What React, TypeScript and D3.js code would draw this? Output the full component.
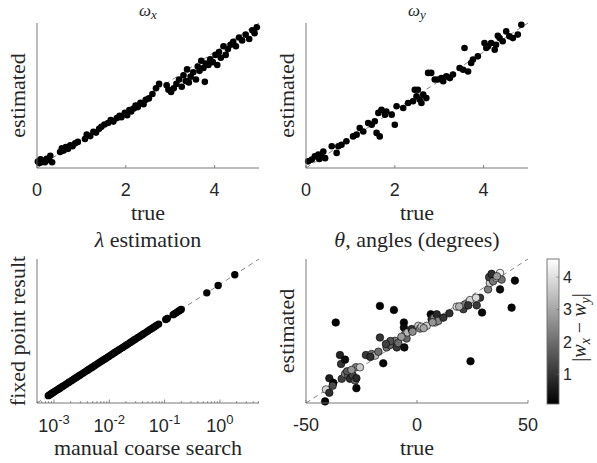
import React from 'react';
import * as d3 from 'd3';

// ---------- data ----------
const omegaXTrue = [0.02,0.05,0.08,0.1,0.14,0.18,0.22,0.26,0.3,0.34,0.52,0.56,0.6,0.65,0.7,0.75,0.8,0.86,0.92,1.08,1.12,1.2,1.27,1.33,1.4,1.45,1.52,1.6,1.66,1.72,1.8,1.86,1.9,1.98,2.03,2.08,2.12,2.18,2.22,2.27,2.33,2.4,2.45,2.52,2.6,2.68,2.75,2.92,2.96,3.02,3.08,3.14,3.2,3.26,3.3,3.35,3.38,3.42,3.46,3.52,3.58,3.62,3.66,3.7,3.75,3.78,3.8,3.86,3.9,3.96,4.02,4.06,4.1,4.14,4.2,4.25,4.3,4.36,4.42,4.48,4.55,4.62,4.7,4.78,4.85,4.9,4.95];
const omegaXEst = [0.22,0.17,0.3,0.2,0.25,0.2,0.32,0.28,0.42,0.2,0.55,0.68,0.6,0.72,0.66,0.78,0.75,0.85,0.9,1.0,1.15,1.1,1.25,1.22,1.35,1.42,1.5,1.55,1.65,1.6,1.72,1.8,1.75,1.9,1.82,2.0,1.95,2.05,2.15,2.1,2.25,2.2,2.35,2.4,2.55,2.75,2.9,2.85,2.7,2.62,2.75,2.9,3.05,2.8,3.2,3.0,3.4,2.95,3.15,3.3,3.05,3.5,3.35,3.7,3.45,2.97,3.6,3.55,3.75,3.65,3.9,3.55,4.0,3.8,4.2,3.9,4.1,4.25,4.35,4.2,4.5,4.4,4.6,4.45,4.75,4.65,4.85];

const omegaYTrue = [0.05,0.13,0.2,0.28,0.35,0.39,0.3,0.43,0.58,0.69,0.73,0.8,0.91,1.06,1.14,1.21,1.29,1.4,1.48,1.55,1.59,1.66,1.63,1.7,1.78,1.81,1.93,2.0,2.04,2.19,2.3,2.41,2.49,2.45,2.52,2.56,2.6,2.71,2.64,2.75,2.82,2.9,2.97,3.05,3.09,3.16,3.24,3.31,3.46,3.54,3.57,3.65,3.72,3.76,3.87,4.02,4.1,4.17,4.25,4.28,4.36,4.43,4.51,4.58,4.66,4.77,4.85,4.06,4.32];
const omegaYEst = [0.23,0.29,0.4,0.46,0.4,0.57,0.31,0.34,0.75,0.52,0.75,0.8,0.92,1.09,1.15,1.38,1.26,1.55,1.49,1.61,1.21,1.09,1.9,2.01,1.84,1.95,1.84,1.49,2.13,2.07,2.24,2.3,2.47,2.7,2.7,2.36,2.24,2.41,2.53,3.28,3.28,3.05,3.05,3.1,2.99,3.16,3.1,3.22,3.45,3.39,4.14,3.33,3.62,3.74,3.85,4.31,4.2,4.31,4.08,4.25,4.48,4.37,4.71,4.54,4.48,4.6,4.94,4.14,4.56];

const lambdaManual = [0.00079,0.00083,0.00088,0.00092,0.00097,0.00103,0.0011,0.00118,0.00125,0.0013,0.0014,0.0015,0.00165,0.0018,0.0019,0.0021,0.0023,0.0025,0.0027,0.0029,0.0031,0.0034,0.0037,0.004,0.0043,0.0047,0.005,0.0054,0.0058,0.0063,0.0068,0.0073,0.0079,0.0085,0.0091,0.0098,0.0105,0.0113,0.0122,0.013,0.014,0.015,0.0162,0.0175,0.019,0.0205,0.022,0.024,0.026,0.028,0.03,0.033,0.036,0.039,0.042,0.046,0.05,0.055,0.06,0.065,0.071,0.078,0.105,0.112,0.143,0.152,0.165,0.178,0.19,0.2,0.58,0.93,1.86];
const lambdaFixed = [0.00079,0.00083,0.00088,0.00092,0.00097,0.00103,0.0011,0.00118,0.00125,0.0013,0.0014,0.0015,0.00165,0.0018,0.0019,0.0021,0.0023,0.0025,0.0027,0.0029,0.0031,0.0034,0.0037,0.004,0.0043,0.0047,0.005,0.0054,0.0058,0.0063,0.0068,0.0073,0.0079,0.0085,0.0091,0.0098,0.0105,0.0113,0.0122,0.013,0.014,0.015,0.0162,0.0175,0.019,0.0205,0.022,0.024,0.026,0.028,0.03,0.033,0.036,0.039,0.042,0.046,0.05,0.055,0.06,0.065,0.071,0.078,0.105,0.112,0.143,0.152,0.165,0.178,0.19,0.2,0.58,0.93,1.86];

const thetaTrue = [-41.4,-41,-39.5,-39.5,-37.7,-36.6,-34.7,-34.2,-32.4,-33.9,-32.4,-30.9,-30.2,-29,-27.9,-27.5,-25.7,-27.3,-27.3,-23,-20.4,-18.9,-17.4,-16.7,-15.2,-16.7,-13.7,-12.2,-10.4,-9.9,-9.1,-8.4,-5.9,-5.9,-5.4,-5.7,-4.7,-4.3,-2.4,0.6,1.4,2.1,4.4,6.2,6.6,7.7,8.9,8.1,9.6,11.9,14.6,17.9,20.9,21.6,23.9,24.1,23.1,26.9,28.4,29.3,32,32.8,32.5,34.3,35.8,37.4,38.1,37.4,33.6,42.6,44.1,26.6,-31.5,-29.5,-38,-12,-7,-2,3,7,19,36,-21,-14];
const thetaEst = [-48.9,-40.6,-42.9,-32.8,-36,5.9,-16.7,-22.9,-19.9,-33.2,-29.8,-30.9,-33.2,-30.5,-34.4,-25.2,-25.2,-39.7,-32.8,-16.7,-16,-17.1,-14.4,17.4,-22.4,-4.5,-11.4,-9.8,14.6,-6.8,-11.4,-8.4,5.9,2.4,-2.2,-11.4,-5.2,-1,1.3,3.6,1.7,2.9,3.6,11.6,8.2,9.3,11.6,5.9,7,9.3,12.3,16.9,15.1,18.5,21.5,-21,17.8,17.8,23.1,12.8,28.9,33.4,37.4,34.6,36.9,40.3,35.7,28.9,39.7,16.2,35,23.1,-28,-27,-38,-7,-4,-0.5,2,6,17,38,-18,-9];
const thetaDiff = [0.2,3.8,0.9,0.6,0.2,0.1,0.7,1.0,0.3,1.2,2.2,2.0,0.9,1.3,1.9,2.3,3.6,0.2,0.8,1.1,2.1,3.4,2.0,0.1,0.2,1.0,2.1,1.8,0.15,2.3,1.1,2.0,0.2,0.3,2.4,0.3,1.9,3.3,1.0,3.6,2.6,3.9,3.7,0.2,0.9,2.3,0.8,3.5,2.4,1.0,0.9,4.0,1.2,2.2,3.8,0.15,1.0,1.1,1.0,0.2,2.3,3.7,1.2,2.2,3.5,4.3,2.1,0.3,0.9,0.15,0.2,3.9,1.6,2.7,1.4,1.5,2.8,2.5,3.0,2.7,3.2,2.8,0.9,1.2];

const linearTicksTop = [0, 2, 4];
const thetaTicks = [-50, 0, 50];
const logMajorTicks = [-3, -2, -1, 0];
const colorbarTicks = [1, 2, 3, 4];

// ---------- style ----------
const SERIF = '"Liberation Serif", "Times New Roman", serif';
const SANS = '"Liberation Sans", Arial, Helvetica, sans-serif';
const AXIS = '#6a6a6a';
const TXT = '#262626';
const LABEL_SIZE = 22;
const TICK_SIZE = 18;

type Box = { x0: number; x1: number; y0: number; y1: number };

function Axes({ b }: { b: Box }) {
  return (
    <g>
      <line x1={b.x0} y1={b.y0} x2={b.x0} y2={b.y1} stroke={AXIS} strokeWidth={0.9} />
      <line x1={b.x0} y1={b.y1} x2={b.x1} y2={b.y1} stroke={AXIS} strokeWidth={0.9} />
    </g>
  );
}

function YLabel({ x, y, text }: { x: number; y: number; text: string }) {
  return (
    <text transform={`translate(${x},${y}) rotate(-90)`} textAnchor="middle" fontFamily={SERIF} fontSize={LABEL_SIZE} fill={TXT}>
      {text}
    </text>
  );
}

export default function App() {
  const A: Box = { x0: 37, x1: 259, y0: 23, y1: 168 };
  const B: Box = { x0: 306, x1: 528, y0: 23, y1: 168 };
  const C: Box = { x0: 37, x1: 259, y0: 259, y1: 403 };
  const D: Box = { x0: 306, x1: 528, y0: 259, y1: 403 };

  const xA = d3.scaleLinear().domain([0, 5]).range([A.x0, A.x1]);
  const yA = d3.scaleLinear().domain([0, 5]).range([A.y1, A.y0]);
  const xB = d3.scaleLinear().domain([0, 5]).range([B.x0, B.x1]);
  const yB = d3.scaleLinear().domain([0, 5]).range([B.y1, B.y0]);
  const logDom: [number, number] = [Math.pow(10, -3.307), Math.pow(10, 0.707)];
  const xC = d3.scaleLog().domain(logDom).range([C.x0, C.x1]);
  const yC = d3.scaleLog().domain(logDom).range([C.y1, C.y0]);
  const xD = d3.scaleLinear().domain([-50, 50]).range([D.x0, D.x1]);
  const yD = d3.scaleLinear().domain([-50, 50]).range([D.y1, D.y0]);

  const cbar = { x: 547, w: 12, y0: 259, y1: 404 };
  const cDomain: [number, number] = [0.08, 4.56];
  const cY = d3.scaleLinear().domain(cDomain).range([cbar.y1, cbar.y0]);
  const cColor = d3.scaleLinear<string>().domain(cDomain).range(['#000000', '#ffffff']);

  const logMinor = xC.ticks().filter((t) => {
    const e = Math.log10(t);
    return Math.abs(e - Math.round(e)) > 1e-6;
  });

  const dash = '5,4';
  const topTickY = 196;
  const topLabelY = 220;
  const botTickY = 431;
  const botLabelY = 455;

  const dotsTop = (xs: number[], ys: number[], sx: any, sy: any) =>
    xs.map((v, i) => <circle key={i} cx={sx(v)} cy={sy(ys[i])} r={3.3} fill="#000" />);

  return (
    <svg width={597} height={463} style={{ position: 'absolute', left: 0, top: 0 }} xmlns="http://www.w3.org/2000/svg">
      <defs>
        <linearGradient id="grayGrad" x1="0" y1="1" x2="0" y2="0">
          <stop offset="0" stopColor="#000" />
          <stop offset="1" stopColor="#fff" />
        </linearGradient>
      </defs>
      <rect width={597} height={463} fill="#fff" />

      {/* ---- panel A : omega_x ---- */}
      <line x1={xA(0)} y1={yA(0)} x2={xA(5)} y2={yA(5)} stroke="#333" strokeWidth={0.6} strokeDasharray={dash} />
      {dotsTop(omegaXTrue, omegaXEst, xA, yA)}
      <Axes b={A} />
      {linearTicksTop.map((t) => (
        <g key={t}>
          <line x1={xA(t)} x2={xA(t)} y1={A.y1} y2={A.y1 - 3} stroke={AXIS} strokeWidth={0.8} />
          <text x={xA(t)} y={topTickY} textAnchor="middle" fontFamily={SANS} fontSize={TICK_SIZE} fill={TXT}>{t}</text>
        </g>
      ))}
      <text x={(A.x0 + A.x1) / 2} y={15.5} textAnchor="middle" fontFamily={SERIF} fontSize={17} fill={TXT}>
        <tspan fontStyle="italic">ω</tspan>
        <tspan fontStyle="italic" fontSize={13} dy={3}>x</tspan>
      </text>
      <text x={(A.x0 + A.x1) / 2} y={topLabelY} textAnchor="middle" fontFamily={SERIF} fontSize={LABEL_SIZE} fill={TXT}>true</text>
      <YLabel x={A.x0 - 12} y={(A.y0 + A.y1) / 2} text="estimated" />

      {/* ---- panel B : omega_y ---- */}
      <line x1={xB(0)} y1={yB(0)} x2={xB(5)} y2={yB(5)} stroke="#333" strokeWidth={0.6} strokeDasharray={dash} />
      {dotsTop(omegaYTrue, omegaYEst, xB, yB)}
      <Axes b={B} />
      {linearTicksTop.map((t) => (
        <g key={t}>
          <line x1={xB(t)} x2={xB(t)} y1={B.y1} y2={B.y1 - 3} stroke={AXIS} strokeWidth={0.8} />
          <text x={xB(t)} y={topTickY} textAnchor="middle" fontFamily={SANS} fontSize={TICK_SIZE} fill={TXT}>{t}</text>
        </g>
      ))}
      <text x={(B.x0 + B.x1) / 2} y={15.5} textAnchor="middle" fontFamily={SERIF} fontSize={17} fill={TXT}>
        <tspan fontStyle="italic">ω</tspan>
        <tspan fontStyle="italic" fontSize={13} dy={3}>y</tspan>
      </text>
      <text x={(B.x0 + B.x1) / 2} y={topLabelY} textAnchor="middle" fontFamily={SERIF} fontSize={LABEL_SIZE} fill={TXT}>true</text>
      <YLabel x={B.x0 - 12} y={(B.y0 + B.y1) / 2} text="estimated" />

      {/* ---- panel C : lambda ---- */}
      <line x1={xC(logDom[0])} y1={yC(logDom[0])} x2={xC(logDom[1])} y2={yC(logDom[1])} stroke="#333" strokeWidth={0.6} strokeDasharray={dash} />
      {lambdaManual.map((v, i) => (
        <circle key={i} cx={xC(v)} cy={yC(lambdaFixed[i])} r={3.7} fill="#000" />
      ))}
      <Axes b={C} />
      {logMinor.map((t, i) => (
        <line key={i} x1={xC(t)} x2={xC(t)} y1={C.y1} y2={C.y1 - 2} stroke={AXIS} strokeWidth={0.7} />
      ))}
      {logMajorTicks.map((e) => (
        <g key={e}>
          <line x1={xC(Math.pow(10, e))} x2={xC(Math.pow(10, e))} y1={C.y1} y2={C.y1 - 3.5} stroke={AXIS} strokeWidth={0.8} />
          <text x={xC(Math.pow(10, e))} y={botTickY + 1} textAnchor="middle" fontFamily={SANS} fontSize={TICK_SIZE} fill={TXT}>
            10<tspan fontSize={13} dy={-8}>{String(e)}</tspan>
          </text>
        </g>
      ))}
      <text x={(C.x0 + C.x1) / 2} y={C.y0 - 12} textAnchor="middle" fontFamily={SERIF} fontSize={LABEL_SIZE} fill={TXT}>
        <tspan fontStyle="italic">λ</tspan> estimation
      </text>
      <text x={(C.x0 + C.x1) / 2} y={botLabelY} textAnchor="middle" fontFamily={SERIF} fontSize={LABEL_SIZE} fill={TXT}>manual coarse search</text>
      <YLabel x={C.x0 - 12} y={(C.y0 + C.y1) / 2} text="fixed point result" />

      {/* ---- panel D : theta ---- */}
      <line x1={xD(-50)} y1={yD(-50)} x2={xD(50)} y2={yD(50)} stroke="#333" strokeWidth={0.6} strokeDasharray={dash} />
      {thetaTrue.map((v, i) => (
        <circle key={i} cx={xD(v)} cy={yD(thetaEst[i])} r={3.8} fill={cColor(thetaDiff[i])} stroke="#000" strokeWidth={0.6} />
      ))}
      <Axes b={D} />
      {thetaTicks.map((t) => (
        <g key={t}>
          <line x1={xD(t)} x2={xD(t)} y1={D.y1} y2={D.y1 - 3} stroke={AXIS} strokeWidth={0.8} />
          <text x={xD(t)} y={botTickY} textAnchor="middle" fontFamily={SANS} fontSize={TICK_SIZE} fill={TXT}>{t}</text>
        </g>
      ))}
      <text x={(D.x0 + D.x1) / 2} y={D.y0 - 12} textAnchor="middle" fontFamily={SERIF} fontSize={LABEL_SIZE} fill={TXT}>
        <tspan fontStyle="italic">θ</tspan>, angles (degrees)
      </text>
      <text x={(D.x0 + D.x1) / 2} y={botLabelY} textAnchor="middle" fontFamily={SERIF} fontSize={LABEL_SIZE} fill={TXT}>true</text>
      <YLabel x={D.x0 - 12} y={(D.y0 + D.y1) / 2} text="estimated" />

      {/* ---- colorbar ---- */}
      <rect x={cbar.x} y={cbar.y0} width={cbar.w} height={cbar.y1 - cbar.y0} fill="url(#grayGrad)" stroke={AXIS} strokeWidth={0.9} />
      {colorbarTicks.map((t) => (
        <g key={t}>
          <line x1={cbar.x + cbar.w} x2={cbar.x + cbar.w - 2.5} y1={cY(t)} y2={cY(t)} stroke={AXIS} strokeWidth={0.7} />
          <text x={cbar.x + 16} y={cY(t) + 6} fontFamily={SANS} fontSize={16} fill={TXT}>{t}</text>
        </g>
      ))}
      <text transform={`translate(586,${(cbar.y0 + cbar.y1) / 2 - 4}) rotate(-90)`} textAnchor="middle" fontFamily={SERIF} fontSize={20} fill={TXT}>
        |<tspan fontStyle="italic">w</tspan>
        <tspan fontStyle="italic" fontSize={14} dy={4}>x</tspan>
        <tspan dy={-4}> − </tspan>
        <tspan fontStyle="italic">w</tspan>
        <tspan fontStyle="italic" fontSize={14} dy={4}>y</tspan>
        <tspan dy={-4}>|</tspan>
      </text>
    </svg>
  );
}
